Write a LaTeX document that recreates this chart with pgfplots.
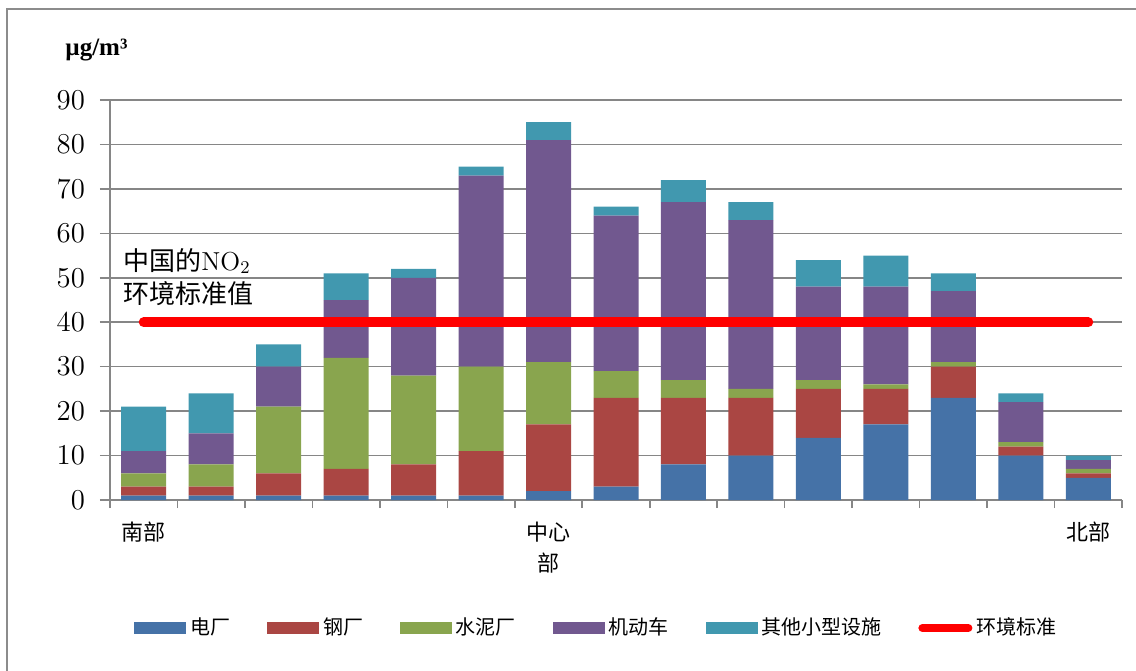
\documentclass[border=0pt]{standalone}
\usepackage{fontspec}
\usepackage{pgfplots}
\usepackage{pgfplotstable}
\pgfplotsset{compat=1.18}
\newfontfamily\cjk{Noto Sans CJK SC}
\newfontfamily\ser{Liberation Serif}
\definecolor{cB}{HTML}{4572A7}
\definecolor{cR}{HTML}{AA4643}
\definecolor{cG}{HTML}{89A54E}
\definecolor{cP}{HTML}{71588F}
\definecolor{cT}{HTML}{4198AF}
\definecolor{frame}{HTML}{8C8C8C}
\definecolor{gridc}{HTML}{868686}
\pgfplotstableread{
x b r g p t
0 1 2 3 5 10
1 1 2 5 7 9
2 1 5 15 9 5
3 1 6 25 13 6
4 1 7 20 22 2
5 1 10 19 43 2
6 2 15 14 50 4
7 3 20 6 35 2
8 8 15 4 40 5
9 10 13 2 38 4
10 14 11 2 21 6
11 17 8 1 22 7
12 23 7 1 16 4
13 10 2 1 9 2
14 5 1 1 2 1
}\data
\begin{document}
\begin{tikzpicture}
\path[use as bounding box] (0,0) rectangle (568pt,-335pt);
\draw[frame, line width=1pt] (3.5pt,-336pt) -- (3.5pt,-4.5pt) -- (569pt,-4.5pt);
\node[anchor=west, inner sep=0pt, font=\ser\bfseries\fontsize{12.5}{14}\selectfont] at (32.5pt,-25pt) {µg/m³};
\begin{axis}[
  at={(55pt,-250pt)}, anchor=south west,
  scale only axis, width=506pt, height=200pt,
  ybar stacked, bar width=22.5pt,
  xmin=-0.5, xmax=14.5, ymin=0, ymax=90,
  ytick={0,10,...,90},
  xtick={0,6,14}, xticklabels={南部,中心\\部,北部},
  minor xtick={-0.5,0.5,...,14.5},
  major x tick style={draw=none},
  tick align=outside, major tick length=5pt, minor tick length=4pt,
  axis x line*=bottom, axis y line*=left,
  axis line style={gridc, line width=0.8pt},
  tick style={gridc, line width=0.8pt},
  ymajorgrids, grid style={gridc, line width=0.8pt},
  yticklabel style={font=\fontsize{14}{16}\selectfont, xshift=-4pt},
  xticklabel style={font=\cjk\fontsize{11}{15.5}\selectfont, align=center, yshift=-2.3pt},
  legend columns=6,
  legend style={at={(0.0237,-0.32)}, anchor=west, draw=none, fill=none, inner xsep=0pt,
    font=\cjk\fontsize{10}{12}\selectfont,
    /tikz/every even column/.append style={column sep=16.4pt}},
  legend image code/.code={\fill[#1] (0pt,-3pt) rectangle (26pt,3pt);},
]
\addplot[fill=cB, draw=none] table[x=x,y=b]{\data};
\addlegendentry{电厂}
\addplot[fill=cR, draw=none] table[x=x,y=r]{\data};
\addlegendentry{钢厂}
\addplot[fill=cG, draw=none] table[x=x,y=g]{\data};
\addlegendentry{水泥厂}
\addplot[fill=cP, draw=none] table[x=x,y=p]{\data};
\addlegendentry{机动车}
\addplot[fill=cT, draw=none] table[x=x,y=t]{\data};
\addlegendentry{其他小型设施}
\addlegendimage{legend image code/.code={\draw[red, line width=4pt, line cap=round] (2pt,0pt) -- (25pt,0pt);}}
\addlegendentry{环境标准}
\end{axis}
\begin{axis}[
  at={(55pt,-250pt)}, anchor=south west,
  scale only axis, width=506pt, height=200pt,
  xmin=-0.5, xmax=14.5, ymin=0, ymax=90, hide axis, clip=false,
]
\addplot[red, line width=5pt, line cap=round] coordinates {(0,40) (14,40)};
\end{axis}
\node[anchor=north west, inner sep=0pt, align=left, font=\fontsize{13}{16.5}\selectfont] at (61.5pt,-124pt) {{\cjk 中国的}NO$_2$\\{\cjk 环境标准值}};
\end{tikzpicture}
\end{document}
